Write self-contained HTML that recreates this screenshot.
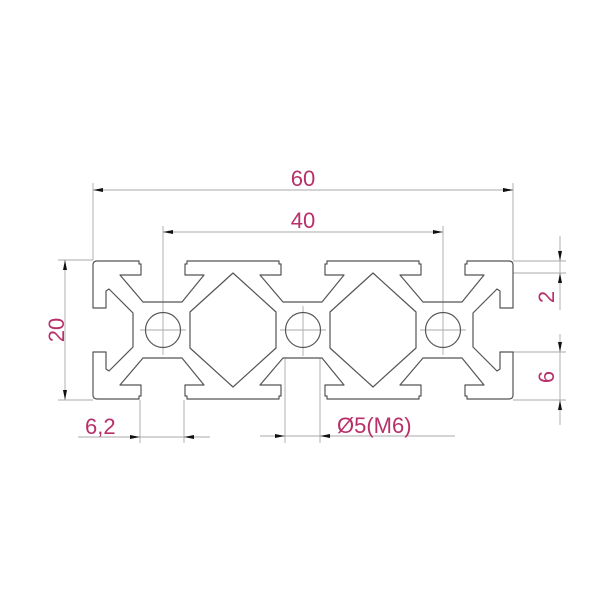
<!DOCTYPE html>
<html><head><meta charset="utf-8"><style>html,body{margin:0;padding:0;background:#fff}svg{display:block}</style></head>
<body>
<svg width="600" height="600" viewBox="0 0 600 600" xmlns="http://www.w3.org/2000/svg">
<defs>
<marker id="a" viewBox="0 0 10 4" refX="10" refY="2" markerWidth="10" markerHeight="4" markerUnits="userSpaceOnUse" orient="auto"><path d="M0,0L10,2L0,4z" fill="#111"/></marker>
</defs>
<rect width="600" height="600" fill="#fff"/>
<!-- center/extension lines -->
<g stroke="#aaa" stroke-width="0.9" fill="none">
<line x1="93" y1="183" x2="93" y2="260"/>
<line x1="513" y1="183" x2="513" y2="260"/>
<line x1="163" y1="226" x2="163" y2="355"/>
<line x1="443" y1="226" x2="443" y2="355"/>
<line x1="303" y1="306" x2="303" y2="356"/>
<line x1="58" y1="260" x2="93" y2="260"/>
<line x1="58" y1="400" x2="93" y2="400"/>
<line x1="140" y1="400" x2="140" y2="443"/>
<line x1="184" y1="400" x2="184" y2="443"/>
<line x1="285" y1="358" x2="285" y2="443"/>
<line x1="320" y1="358" x2="320" y2="443"/>
<line x1="513" y1="261" x2="566" y2="261"/>
<line x1="513" y1="273" x2="566" y2="273"/>
<line x1="513" y1="352" x2="566" y2="352"/>
<line x1="513" y1="400" x2="566" y2="400"/>
<line x1="140" y1="330" x2="186" y2="330"/>
<line x1="280" y1="330" x2="326" y2="330"/>
<line x1="420" y1="330" x2="466" y2="330"/>
</g>
<!-- dimension lines -->
<g stroke="#aaa" stroke-width="0.9" fill="none">
<line x1="93" y1="190" x2="513" y2="190" marker-start="url(#a)" marker-end="url(#a)" style="marker-start:none"/>
<line x1="163" y1="232" x2="443" y2="232"/>
<line x1="65" y1="260" x2="65" y2="400"/>
<line x1="78" y1="437" x2="210" y2="437"/>
<line x1="260" y1="436" x2="455" y2="436"/>
<line x1="560" y1="236" x2="560" y2="310"/>
<line x1="560" y1="334" x2="560" y2="425"/>
</g>
<g fill="#111">
<path d="M93,190l10,-2v4z"/><path d="M513,190l-10,-2v4z"/>
<path d="M163,232l10,-2v4z"/><path d="M443,232l-10,-2v4z"/>
<path d="M65,260l-2,10h4z"/><path d="M65,400l-2,-10h4z"/>
<path d="M140,437l-10,-2v4z"/><path d="M184,437l10,-2v4z"/>
<path d="M285,436l-10,-2v4z"/><path d="M320,436l10,-2v4z"/>
<path d="M560,261l-2,-10h4z"/><path d="M560,273l-2,10h4z"/>
<path d="M560,352l-2,-10h4z"/><path d="M560,400l-2,10h4z"/>
</g>
<!-- profile -->
<g stroke="#555" stroke-width="1.2" fill="none" stroke-linejoin="round">
<path d="M93,265Q93,261 97,261L139,261L139,264L141,264L141,275L120,275L143,302L182,302L204,275L185,275L185,264L187,264L187,261
L279,261L279,264L281,264L281,275L260,275L283,302L322,302L344,275L325,275L325,264L327,264L327,261
L419,261L419,264L421,264L421,275L400,275L423,302L462,302L484,275L465,275L465,264L467,264L467,261
L509,261Q513,261 513,265L513,308L500,308L500,291L497,289L473,313L473,347L497,371L500,369L500,352L513,352L513,395Q513,399 509,399
L467,399L467,396L465,396L465,385L484,385L462,358L423,358L400,385L421,385L421,396L419,396L419,399
L327,399L327,396L325,396L325,385L344,385L322,358L283,358L260,385L281,385L281,396L279,396L279,399
L187,399L187,396L185,396L185,385L204,385L182,358L143,358L120,385L141,385L141,396L139,396L139,399
L97,399Q93,399 93,395L93,352L106,352L106,369L109,371L133,347L133,313L109,289L106,291L106,308L93,308Z"/>
<path d="M233,273L276,312L276,348L233,387L190,348L190,312Z"/>
<path d="M373,273L416,312L416,348L373,387L330,348L330,312Z"/>
<circle cx="163" cy="330" r="17.5"/>
<circle cx="303" cy="330" r="17.5"/>
<circle cx="443" cy="330" r="17.5"/>
</g>
<g fill="#b8306a" font-family="Liberation Sans, sans-serif" font-size="22">
<text x="303" y="186" text-anchor="middle">60</text>
<text x="303" y="228" text-anchor="middle">40</text>
<text transform="translate(64,330) rotate(-90)" text-anchor="middle">20</text>
<text x="85" y="434">6,2</text>
<text x="337" y="433">Ø5(M6)</text>
<text transform="translate(554,297) rotate(-90)" text-anchor="middle">2</text>
<text transform="translate(554,377) rotate(-90)" text-anchor="middle">6</text>
</g>
</svg>
</body></html>
